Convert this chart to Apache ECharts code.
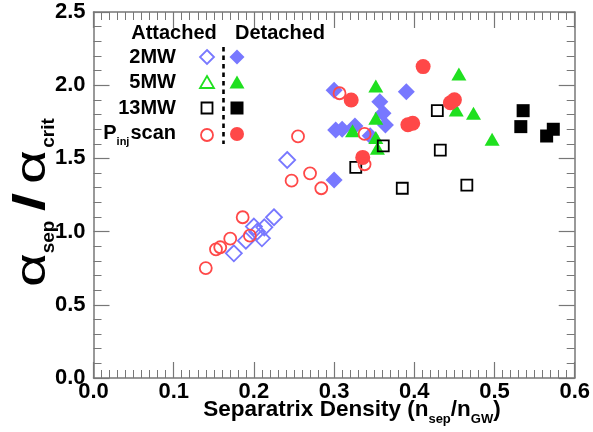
<!DOCTYPE html>
<html><head><meta charset="utf-8">
<script src="https://cdn.jsdelivr.net/npm/echarts@6/dist/echarts.min.js"></script>
<style>html,body{margin:0;padding:0;background:#fff}#c{width:593px;height:432px}</style>
</head><body><div id="c"></div>
<script>
// ---- data (x = n_sep/n_GW, y = alpha_sep/alpha_crit) ----
var att2MW = [[0.175,0.852],[0.190,0.938],[0.204,0.999],[0.200,1.034],[0.210,0.954],[0.213,1.029],[0.225,1.098],[0.2415,1.489]];
var det2MW = [[0.300,1.965],[0.357,1.887],[0.390,1.956],[0.302,1.694],[0.310,1.699],[0.326,1.721],[0.345,1.655],[0.361,1.808],[0.364,1.728],[0.300,1.352]];
var att5MW = [];
var det5MW = [[0.352,1.995],[0.4556,2.077],[0.4523,1.831],[0.4738,1.808],[0.497,1.631],[0.352,1.774],[0.323,1.689],[0.352,1.643],[0.354,1.569]];
var att13MW = [[0.4287,1.826],[0.3613,1.585],[0.4324,1.557],[0.327,1.439],[0.385,1.296],[0.4655,1.318]];
var det13MW = [[0.5357,1.826],[0.5328,1.717],[0.565,1.653],[0.5733,1.699]];
var attPinj = [[0.140,0.751],[0.1527,0.879],[0.158,0.893],[0.1705,0.952],[0.186,1.098],[0.195,0.972],[0.247,1.348],[0.270,1.398],[0.284,1.296],[0.255,1.650],[0.3068,1.945],[0.338,1.667],[0.338,1.46]];
var detPinj = [[0.411,2.127],[0.3213,1.899],[0.445,1.88],[0.450,1.90],[0.392,1.73],[0.398,1.74],[0.3357,1.507]];
var xTicks = [0,0.1,0.2,0.3,0.4,0.5,0.6];
var yTicks = [0,0.5,1.0,1.5,2.0,2.5];

var BLUE = '#7878ff', RED = '#ff4848', GREEN = '#1fe01f', BLACK = '#000';
var FONT = '"Liberation Sans", Arial, Helvetica, sans-serif';
var chart = echarts.init(document.getElementById('c'), null, {renderer:'canvas'});

function axisX(pos, showLabel){
  return {type:'value', position:pos, min:xTicks[0], max:xTicks[xTicks.length-1], interval:0.1,
    axisLine:{show:true, onZero:false, lineStyle:{color:'#777', width:1.5}},
    axisTick:{show:true, inside:true, length:16, lineStyle:{color:'#777', width:1.2}},
    minorTick:{show:true, splitNumber:10, length:8, lineStyle:{color:'#777', width:1}},
    splitLine:{show:false}, minorSplitLine:{show:false},
    axisLabel:{show:showLabel, color:'#000', fontSize:22, fontWeight:'bold', fontFamily:FONT, margin:3,
      formatter:function(v){return v.toFixed(1);}}};
}
function axisY(pos, showLabel){
  return {type:'value', position:pos, min:yTicks[0], max:yTicks[yTicks.length-1], interval:0.5,
    axisLine:{show:true, onZero:false, lineStyle:{color:'#777', width:1.5}},
    axisTick:{show:true, inside:true, length:16, lineStyle:{color:'#777', width:1.2}},
    minorTick:{show:true, splitNumber:5, length:8, lineStyle:{color:'#777', width:1}},
    splitLine:{show:false}, minorSplitLine:{show:false},
    axisLabel:{show:showLabel, color:'#000', fontSize:22, fontWeight:'bold', fontFamily:FONT, margin:8,
      formatter:function(v){return v.toFixed(1);}}};
}
function sc(name, data, symbol, size, color, filled){
  return {name:name, type:'scatter', xAxisIndex:0, yAxisIndex:0, data:data, symbol:symbol, symbolSize:size,
    itemStyle: filled ? {color:color, opacity:1} : {color:'rgba(0,0,0,0)', borderColor:color, borderWidth:1.8, opacity:1},
    emphasis:{disabled:true}, z: 2};
}

// legend geometry helpers (graphic)
var LX1 = 207, LX2 = 237, rows = [57, 82, 108, 133];
function diamond(cx,cy,s,color,filled){
  return {type:'polygon', shape:{points:[[cx,cy-s],[cx+s,cy],[cx,cy+s],[cx-s,cy]]},
    style: filled?{fill:color}:{fill:null, stroke:color, lineWidth:1.8}};
}
function tri(cx,cy,w,h,color,filled){
  return {type:'polygon', shape:{points:[[cx,cy-h/2],[cx+w/2,cy+h/2],[cx-w/2,cy+h/2]]},
    style: filled?{fill:color}:{fill:null, stroke:color, lineWidth:1.8}};
}
function sq(cx,cy,s,color,filled){
  return {type:'rect', shape:{x:cx-s/2,y:cy-s/2,width:s,height:s},
    style: filled?{fill:color}:{fill:null, stroke:color, lineWidth:1.8}};
}
function circ(cx,cy,r,color,filled){
  return {type:'circle', shape:{cx:cx,cy:cy,r:r},
    style: filled?{fill:color}:{fill:null, stroke:color, lineWidth:1.8}};
}
function txt(x,y,s,align){
  return {type:'text', x:x, y:y, style:{text:s, fill:'#000', font:'bold 20px '+FONT, align:align||'right', verticalAlign:'middle'}};
}
function ttl(x,y,s,font,sx){
  return {type:'text', x:x, y:y, scaleX:sx||1, style:{text:s, fill:'#000', font:font, align:'center', verticalAlign:'middle'}};
}

var option = {
  animation:false,
  backgroundColor:'#fff',
  grid:{left:93.5, right:15.5, top:12, bottom:54, containLabel:false},
  xAxis:[axisX('bottom', true), axisX('top', false)],
  yAxis:[axisY('left', true), axisY('right', false)],
  series:[
    sc('2MW attached', att2MW, 'diamond', 16, BLUE, false),
    sc('2MW detached', det2MW, 'diamond', 17, BLUE, true),
    sc('5MW attached', att5MW, 'triangle', [15,13], GREEN, false),
    sc('5MW detached', det5MW, 'triangle', [15,13], GREEN, true),
    sc('13MW attached', att13MW, 'rect', 11, BLACK, false),
    sc('13MW detached', det13MW, 'rect', 13, BLACK, true),
    sc('Pinj detached', detPinj, 'circle', 15, RED, true),
    sc('Pinj attached', attPinj, 'circle', 12, RED, false)
  ],
  graphic:[
    {type:'text', x:174, y:33, style:{text:'Attached', fill:'#000', font:'bold 20px '+FONT, align:'center', verticalAlign:'middle'}},
    {type:'text', x:280, y:33, style:{text:'Detached', fill:'#000', font:'bold 20px '+FONT, align:'center', verticalAlign:'middle'}},
    txt(176, rows[0], '2MW'),
    txt(176, rows[1], '5MW'),
    txt(176, rows[2], '13MW'),
    {type:'text', x:176, y:rows[3], style:{text:'{m|P}{s|inj}{m|scan}', align:'right', verticalAlign:'middle',
      rich:{m:{fontSize:20, fontWeight:'bold', fontFamily:FONT, fill:'#000'},
            s:{fontSize:11, fontWeight:'bold', fontFamily:FONT, fill:'#000', padding:[18,1,0,0]}}}},
    {type:'line', shape:{x1:223.5, y1:47, x2:223.5, y2:144}, style:{stroke:'#000', lineWidth:2.6, lineDash:[4.5,4]}},
    diamond(LX1, rows[0], 7, BLUE, false), diamond(LX2, rows[0], 7.5, BLUE, true),
    tri(LX1, rows[1], 14, 12, GREEN, false), tri(LX2, rows[1], 15, 13, GREEN, true),
    sq(LX1, rows[2], 11, BLACK, false), sq(LX2, rows[2], 13, BLACK, true),
    circ(LX1, rows[3]+2, 6, RED, false), circ(LX2, rows[3]+1, 7, RED, true),
    // y-axis title (group rotated so text reads bottom-to-top)
    {type:'group', x:34, y:200, rotation:Math.PI/2, children:[
      ttl(-70, -1, 'α', '42px '+FONT, 1.4),
      ttl(-37, 15, 'sep', 'bold 19px '+FONT),
      ttl(-2, -2, '/', 'bold 44px '+FONT, 1.5),
      ttl(33, -1, 'α', '42px '+FONT, 1.4),
      ttl(67, 15, 'crit', 'bold 19px '+FONT)
    ]},
    // x-axis title
    {type:'text', x:352, y:410,
      style:{text:'{m|Separatrix Density (n}{s|sep}{m|/n}{s|GW}{m|)}', align:'center', verticalAlign:'middle',
        rich:{m:{fontSize:22.5, fontWeight:'bold', fontFamily:FONT, fill:'#000'},
              s:{fontSize:13, fontWeight:'bold', fontFamily:FONT, fill:'#000', padding:[18,0,0,0]}}}}
  ]
};
chart.setOption(option);
</script></body></html>
